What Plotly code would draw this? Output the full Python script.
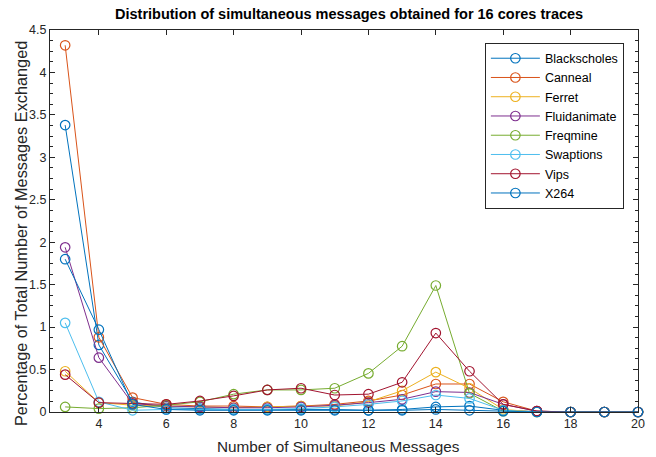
import plotly.graph_objects as go

x_vals = list(range(3, 21))

blackscholes = [3.38, 0.79, 0.12, 0.05, 0.04, 0.03, 0.03, 0.03, 0.03, 0.02, 0.03, 0.06, 0.07, 0.02, 0.005, 0, 0, 0]
canneal      = [4.32, 0.88, 0.17, 0.09, 0.07, 0.07, 0.06, 0.07, 0.09, 0.13, 0.20, 0.33, 0.33, 0.12, 0.01, 0, 0, 0]
ferret       = [0.48, 0.11, 0.08, 0.07, 0.06, 0.05, 0.06, 0.07, 0.07, 0.12, 0.25, 0.47, 0.28, 0.03, 0, 0, 0, 0]
fluidanimate = [1.94, 0.64, 0.10, 0.07, 0.06, 0.05, 0.05, 0.06, 0.08, 0.11, 0.15, 0.24, 0.23, 0.09, 0.01, 0, 0, 0]
freqmine     = [0.06, 0.04, 0.05, 0.08, 0.12, 0.21, 0.26, 0.26, 0.28, 0.455, 0.775, 1.49, 0.22, 0.01, 0, 0, 0, 0]
swaptions    = [1.05, 0.12, 0.02, 0.03, 0.03, 0.03, 0.03, 0.04, 0.06, 0.09, 0.13, 0.20, 0.16, 0.02, 0, 0, 0, 0]
vips         = [0.44, 0.11, 0.10, 0.09, 0.13, 0.19, 0.26, 0.28, 0.20, 0.21, 0.35, 0.93, 0.48, 0.09, 0.01, 0, 0, 0]
x264         = [1.80, 0.97, 0.09, 0.03, 0.02, 0.02, 0.02, 0.02, 0.02, 0.02, 0.02, 0.03, 0.02, 0.01, 0, 0, 0, 0]

series_names = ["Blackscholes", "Canneal", "Ferret", "Fluidanimate", "Freqmine", "Swaptions", "Vips", "X264"]
series_data = [blackscholes, canneal, ferret, fluidanimate, freqmine, swaptions, vips, x264]
colors = ["#0072BD", "#D95319", "#EDB120", "#7E2F8E", "#77AC30", "#4DBEEE", "#A2142F", "#0072BD"]

x_ticks = [4, 6, 8, 10, 12, 14, 16, 18, 20]
y_ticks = [0, 0.5, 1, 1.5, 2, 2.5, 3, 3.5, 4, 4.5]
y_tick_labels = ["0", "0.5", "1", "1.5", "2", "2.5", "3", "3.5", "4", "4.5"]

FONT = "Liberation Sans, Arial, Helvetica, sans-serif"
AX = "#262626"

fig = go.Figure()
for name, ys, c in zip(series_names, series_data, colors):
    fig.add_trace(go.Scatter(
        x=x_vals, y=ys, name=name, mode="lines+markers",
        line=dict(color=c, width=1),
        marker=dict(symbol="circle-open", size=9.5, color=c, line=dict(width=1.2, color=c)),
        cliponaxis=False,
    ))

fig.update_layout(
    width=656, height=457,
    margin=dict(l=50, r=18, t=29.5, b=45),
    paper_bgcolor="white", plot_bgcolor="white",
    font=dict(family=FONT, size=12.5, color=AX),
    showlegend=True,
    legend=dict(
        x=0.976, y=0.967, xanchor="right", yanchor="top",
        bgcolor="white", bordercolor=AX, borderwidth=1,
        font=dict(family=FONT, size=12.5, color="black"),
        itemwidth=49, tracegroupgap=0,
    ),
    annotations=[
        dict(text="<b>Distribution of simultaneous messages obtained for 16 cores traces</b>",
             xref="paper", yref="paper", x=0.5, y=1, xshift=5, yshift=6, xanchor="center", yanchor="bottom",
             showarrow=False, font=dict(family=FONT, size=14.5, color="black")),
        dict(text="Number of Simultaneous Messages",
             xref="paper", yref="paper", x=0.5, y=0, xshift=-6, yshift=-24, xanchor="center", yanchor="top",
             showarrow=False, font=dict(family=FONT, size=15.3, color=AX)),
        dict(text="Percentage of Total Number of Messages Exchanged",
             xref="paper", yref="paper", x=0, y=0.5, xshift=-18, yshift=-13, xanchor="right", yanchor="middle",
             textangle=-90, showarrow=False, font=dict(family=FONT, size=16.3, color=AX)),
    ],
)

fig.update_xaxes(
    range=[2.55, 20], tickvals=x_ticks, ticktext=[str(v) for v in x_ticks],
    showline=True, linecolor=AX, linewidth=1, mirror="allticks",
    ticks="inside", ticklen=5, tickcolor=AX, tickfont=dict(size=12.5, color=AX),
    showgrid=False, zeroline=False,
)
fig.update_yaxes(
    range=[0, 4.5], tickvals=y_ticks, ticktext=y_tick_labels,
    showline=True, linecolor=AX, linewidth=1, mirror="allticks",
    ticks="inside", ticklen=5, tickcolor=AX, tickfont=dict(size=12.5, color=AX),
    minor=dict(dtick=0.125, tick0=0, ticks="inside", ticklen=3, tickcolor=AX, showgrid=False),
    showgrid=False, zeroline=False,
)

fig.write_html("out.html")
